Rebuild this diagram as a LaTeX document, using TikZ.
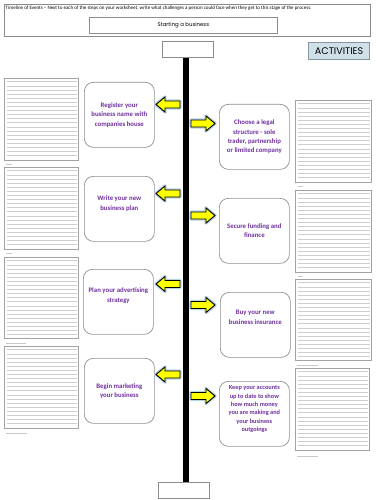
\documentclass[tikz,border=0pt]{standalone}
\usepackage{fontspec}
\setmainfont{Carlito}
\newfontfamily\geofont{Poppins}
\usetikzlibrary{calc}
\definecolor{steptxt}{HTML}{7030A0}
\definecolor{stepedge}{HTML}{8A9098}
\definecolor{lbedge}{HTML}{A2A2A2}
\definecolor{ruleclr}{HTML}{CDCDCD}
\definecolor{hdredge}{HTML}{8C8C8C}
\definecolor{actfill}{HTML}{CFE0E8}
\definecolor{actedge}{HTML}{8695A0}
\definecolor{glowclr}{HTML}{B9D5E4}
\definecolor{arrowfill}{HTML}{FFFF00}
\definecolor{markclr}{HTML}{C8C8C8}
\tikzset{
  stepbox/.style={draw=stepedge, line width=0.7pt, rounded corners=9pt, fill=white,
    minimum width=70pt, minimum height=65pt, align=center, inner sep=0pt,
    anchor=north west, text=steptxt, font=\fontsize{6.8}{9.3}\selectfont\bfseries},
  linedbox/.style={draw=lbedge, line width=1.1pt, inner sep=0pt, anchor=north west, fill=white},
  ruled/.style={draw=ruleclr, line width=0.75pt},
  plainbox/.style={draw=hdredge, line width=0.8pt, inner sep=0pt, anchor=north west},
  tickmark/.style={draw=markclr, line width=0.8pt},
  timeline/.style={draw=black, line width=6pt},
  arrowglow/.style={draw=glowclr, line width=3.4pt, line join=round},
  blockarrow/.style={draw=black, line width=0.9pt, fill=arrowfill, line join=miter}
}
\newcommand\linedbox[5]{%
  \node[linedbox, minimum width=#4pt, minimum height=#5pt] (#1) at (#2,#3) {};
  \foreach \k in {0,...,18}
    \draw[ruled] ($(#1.north west)+(2.5,3.8+\k*4.1)$) -- ($(#1.north east)+(-2.5,3.8+\k*4.1)$);
}
\newcommand\leftarrowshape[2]{% tip x, centre y
  \foreach \sty in {arrowglow,blockarrow}
    \draw[\sty] (#1,#2) -- ++(9,-7.5) -- ++(0,4) -- ++(15,0) -- ++(0,7) -- ++(-15,0) -- ++(0,4) -- cycle;
}
\newcommand\rightarrowshape[2]{% tip x, centre y
  \foreach \sty in {arrowglow,blockarrow}
    \draw[\sty] (#1,#2) -- ++(-9,-7.5) -- ++(0,4) -- ++(-15,0) -- ++(0,7) -- ++(15,0) -- ++(0,4) -- cycle;
}
\begin{document}
\begin{tikzpicture}[x=1pt,y=-1pt]
\useasboundingbox[fill=white] (0,0) rectangle (375,500);

% header
\node[plainbox, minimum width=366pt, minimum height=32pt] (header) at (4,4) {};
\node[anchor=north west, inner sep=0pt, font=\fontsize{5}{5.5}\selectfont] (hdrtxt) at (5.5,5.4)
  {Timeline of Events – Next to each of the steps on your worksheet, write what challenges a person could face when they get to this stage of the process.};
\node[plainbox, minimum width=188pt, minimum height=16pt, font=\geofont\fontsize{5.4}{6}\selectfont] (title) at (89,17) {Starting a business};

% activities
\node[draw=actedge, fill=actfill, line width=1.2pt, anchor=north west, minimum width=61pt, minimum height=17pt,
  inner sep=0pt, font=\geofont\fontsize{9.6}{10}\selectfont, text=black] (act) at (308,42) {ACTIVITIES};

% timeline
\node[plainbox, minimum width=51pt, minimum height=16pt] (topbox) at (162,41) {};
\node[plainbox, minimum width=51pt, minimum height=16pt] (botbox) at (158,482) {};
\draw[timeline] ([xshift=-1.5pt]topbox.south) -- ([xshift=2.5pt]botbox.north);

% lined boxes left
\linedbox{wl1}{4}{78}{74}{82}
\linedbox{wl2}{4}{167}{74}{82}
\linedbox{wl3}{4}{257}{74}{81}
\linedbox{wl4}{4}{346}{74}{82}
% lined boxes right
\linedbox{wr1}{295}{100}{76}{82}
\linedbox{wr2}{295}{190}{76}{82}
\linedbox{wr3}{295}{279}{76}{81}
\linedbox{wr4}{295}{368}{74}{82}

% small marks
\draw[tickmark] (6,164) -- (12,164);
\draw[tickmark] (6,253.5) -- (12,253.5);
\draw[tickmark] (6,343) -- (26,343);
\draw[tickmark] (6,433) -- (27,433);
\draw[tickmark] (298,186.5) -- (303,186.5);
\draw[tickmark] (298,276) -- (303,276);
\draw[tickmark] (297,365) -- (318,365);
\draw[tickmark] (297,456) -- (318,456);

% steps
\node[stepbox] (s1) at (84,82) {Register your\\business name with\\companies house};
\node[stepbox] (s2) at (219,104) {Choose a legal\\structure - sole\\trader, partnership\\or limited company};
\node[stepbox] (s3) at (84,176) {Write your new\\business plan\\[2pt]};
\node[stepbox] (s4) at (219,198) {Secure funding and\\finance};
\node[stepbox] (s5) at (83,269) {Plan your advertising\\strategy\\[4pt]};
\node[stepbox] (s6) at (220,292) {Buy your new\\business insurance\\[6pt]};
\node[stepbox] (s7) at (84,358) {Begin marketing\\your business};
\node[stepbox, font=\fontsize{6.3}{8.4}\selectfont\bfseries] (s8) at (219,381)
  {Keep your accounts\\up to date to show\\how much money\\you are making and\\your business\\outgoings\\[2pt]};

% arrows
\leftarrowshape{156}{104.5}
\leftarrowshape{156}{193.5}
\leftarrowshape{156}{284}
\leftarrowshape{156}{374.5}
\rightarrowshape{215}{123.5}
\rightarrowshape{215}{215.5}
\rightarrowshape{215}{305}
\rightarrowshape{215}{396}
\end{tikzpicture}
\end{document}
